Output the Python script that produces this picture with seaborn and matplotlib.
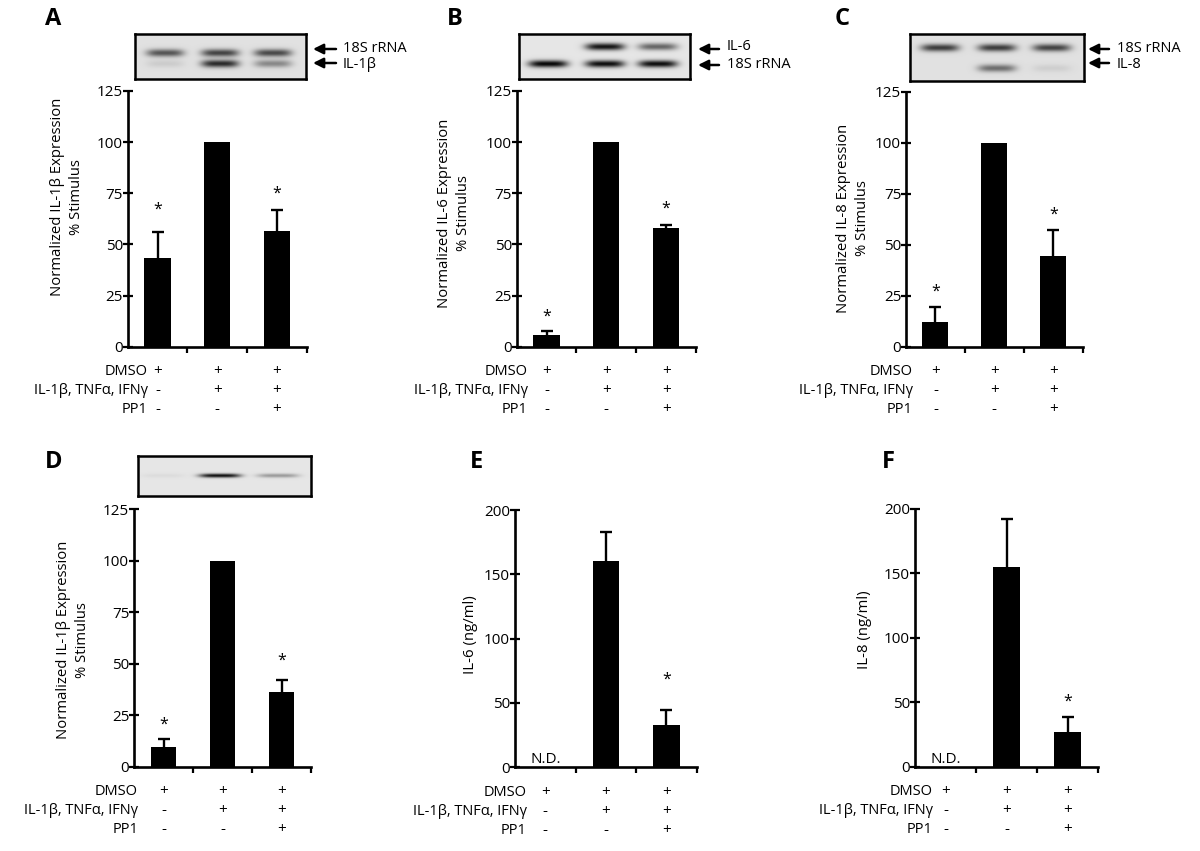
import numpy as np
import pandas as pd
import matplotlib
matplotlib.use('Agg')
import matplotlib.pyplot as plt
import matplotlib.transforms as mtransforms
import seaborn as sns

sns.set_style('ticks')
plt.rcParams['font.family'] = ['Open Sans', 'DejaVu Sans']
plt.rcParams['text.color'] = 'black'
plt.rcParams['axes.labelcolor'] = 'black'
plt.rcParams['xtick.color'] = 'black'
plt.rcParams['ytick.color'] = 'black'

W, H = 1200, 851

# treatment groups (one bar each)
conditions = ['DMSO', 'DMSO + cytokines', 'DMSO + cytokines + PP1']
row_labels = ['DMSO', 'IL-1\u03b2, TNF\u03b1, IFN\u03b3', 'PP1']
row_signs = [['+', '+', '+'], ['-', '+', '+'], ['-', '-', '+']]

# A: IL-1b mRNA, % stimulus
il1b_mrna = [43.5, 100.0, 56.5]
il1b_mrna_sem = [12.7, 0.0, 10.3]
# B: IL-6 mRNA, % stimulus
il6_mrna = [5.7, 100.0, 58.0]
il6_mrna_sem = [2.1, 0.0, 1.6]
# C: IL-8 mRNA, % stimulus
il8_mrna = [11.9, 100.0, 44.6]
il8_mrna_sem = [7.7, 0.0, 12.6]
# D: IL-1b protein, % stimulus
il1b_prot = [9.7, 100.0, 36.1]
il1b_prot_sem = [3.7, 0.0, 5.9]
# E/F: secreted protein, ng/ml (first group not detected)
il6_ng = [0.0, 160.6, 32.9]
il6_ng_sem = [0.0, 22.1, 11.6]
il8_ng = [0.0, 155.2, 26.7]
il8_ng_sem = [0.0, 37.3, 12.1]

stars_pct = [True, False, True]
stars_ng = [False, False, True]
not_detected = [True, False, False]

# gel band intensities per lane (0 = no band)
gelA_18s = [0.55, 0.62, 0.6]
gelA_il1b = [0.08, 0.72, 0.35]
gelB_il6 = [0.0, 0.82, 0.5]
gelB_18s = [0.88, 0.85, 0.85]
gelC_18s = [0.65, 0.65, 0.62]
gelC_il8 = [0.0, 0.45, 0.07]
gelD_il1b = [0.04, 0.85, 0.3]

fig = plt.figure(figsize=(12, 8.51), dpi=100)


def px_axes(left, top, right, bottom):
    return fig.add_axes([left / W, 1 - bottom / H, (right - left) / W, (bottom - top) / H])


def ftext(px, py, s, **kw):
    return fig.text(px / W, 1 - py / H, s, **kw)


def arrow(x_head, x_tail, y):
    fig.add_artist(matplotlib.patches.FancyArrowPatch(
        (x_tail / W, 1 - y / H), (x_head / W, 1 - y / H), transform=fig.transFigure,
        arrowstyle='-|>', mutation_scale=15, lw=1.8, color='black',
        shrinkA=0, shrinkB=0))


def draw_gel(box, lanes, bands, half_w, half_h, bg):
    ax = px_axes(*box)
    nx = int((box[2] - box[0]) * 2)
    ny = int((box[3] - box[1]) * 2)
    X, Y = np.meshgrid(np.linspace(0, 1, nx), np.linspace(0, 1, ny))
    img = np.full((ny, nx), bg)
    for ypos, intens in bands:
        for lx, val in zip(lanes, intens):
            img -= val * np.exp(-((X - lx) / half_w) ** 4) * np.exp(-((Y - ypos) / half_h) ** 2)
    ax.imshow(np.clip(img, 0, 1), cmap='gray', vmin=0, vmax=1, aspect='auto',
              extent=(0, 1, 1, 0), interpolation='bilinear')
    ax.set_xticks([])
    ax.set_yticks([])
    for s in ax.spines.values():
        s.set_visible(True)
        s.set_linewidth(1.8)
        s.set_color('black')
    return ax


def draw_bars(box, means, sems, stars, ymax, step, star_pad, nd=None, label_off=10):
    ax = px_axes(*box)
    df = pd.DataFrame({'condition': conditions, 'value': means})
    sns.barplot(data=df, x='condition', y='value', color='black', saturation=1,
                width=0.44, errorbar=None, edgecolor='black', linewidth=0, ax=ax)
    # upper-only error bars with a cap at the top
    idx = [i for i, s in enumerate(sems) if s > 0]
    tops = [means[i] + sems[i] for i in idx]
    ax.vlines(idx, [means[i] for i in idx], tops, color='black', lw=1.7)
    ax.plot(idx, tops, ls='none', marker='_', ms=8, mew=1.7, color='black')
    for i, st in enumerate(stars):
        if st:
            ax.annotate('*', xy=(i, means[i] + sems[i]), xytext=(0, star_pad[i]),
                        textcoords='offset pixels', ha='center', va='bottom', fontsize=11.5)
    if nd is not None:
        for i, flag in enumerate(nd):
            if flag:
                ax.annotate('N.D.', xy=(i, 0), xytext=(0, 0), textcoords='offset pixels',
                            ha='center', va='bottom', fontsize=11)
    ax.set_xlim(-0.5, 2.5)
    ax.set_ylim(0, ymax)
    ax.set_yticks(np.arange(0, ymax + 1, step))
    ax.set_xticks([0.5, 1.5, 2.5])
    ax.set_xticklabels([])
    ax.set_xlabel('')
    ax.set_ylabel('')
    sns.despine(ax=ax)
    ax.patch.set_alpha(0)
    for s in ['left', 'bottom']:
        ax.spines[s].set_linewidth(1.9)
        ax.spines[s].set_color('black')
    ax.tick_params(axis='y', direction='inout', length=7, width=1.6, labelsize=11,
                   pad=0, colors='black')
    ax.tick_params(axis='x', direction='out', length=4, width=1.6, colors='black')

    # treatment table under the axis
    tr = mtransforms.blended_transform_factory(ax.transData, fig.transFigure)
    for r, (lab, signs) in enumerate(zip(row_labels, row_signs)):
        y = box[3] + 25 + r * 19
        ftext(box[0] + label_off, y, lab, ha='right', va='center', fontsize=10.5)
        for i, sg in enumerate(signs):
            ax.text(i, 1 - y / H, sg, transform=tr, ha='center', va='center', fontsize=11)
    return ax


# ---- panel letters ----
for lab, x, y in [('A', 45, 25), ('B', 447, 25), ('C', 835, 25),
                  ('D', 45, 468), ('E', 470, 468), ('F', 882, 468)]:
    ftext(x, y, lab, ha='left', va='baseline', fontsize=17, fontweight='bold')

# ---- gels ----
draw_gel((135, 34, 306, 79), [0.176, 0.498, 0.808],
         [(0.42, gelA_18s), (0.66, gelA_il1b)], 0.11, 0.085, 0.88)
arrow(313, 336, 49)
arrow(313, 336, 63)
ftext(343, 49, '18S rRNA', ha='left', va='center', fontsize=10.5)
ftext(343, 64, 'IL-1\u03b2', ha='left', va='center', fontsize=10.5)

draw_gel((519, 34, 690, 79), [0.17, 0.503, 0.813],
         [(0.28, gelB_il6), (0.665, gelB_18s)], 0.115, 0.08, 0.9)
arrow(698, 719, 49)
arrow(698, 719, 65)
ftext(727, 47, 'IL-6', ha='left', va='center', fontsize=10.5)
ftext(727, 64, '18S rRNA', ha='left', va='center', fontsize=10.5)

draw_gel((910, 34, 1084, 81), [0.172, 0.5, 0.816],
         [(0.29, gelC_18s), (0.73, gelC_il8)], 0.11, 0.08, 0.88)
arrow(1088, 1109, 49)
arrow(1088, 1109, 63)
ftext(1117, 48, '18S rRNA', ha='left', va='center', fontsize=10.5)
ftext(1117, 64, 'IL-8', ha='left', va='center', fontsize=10.5)

draw_gel((138, 456, 311, 496), [0.145, 0.474, 0.81],
         [(0.49, gelD_il1b)], 0.12, 0.05, 0.9)

# ---- bar charts ----
draw_bars((127.7, 91, 306.7, 346.7), il1b_mrna, il1b_mrna_sem, stars_pct, 125, 25,
          [14, 0, 8], label_off=20)
draw_bars((516.7, 91, 696, 346.7), il6_mrna, il6_mrna_sem, stars_pct, 125, 25,
          [6, 0, 8], label_off=11)
draw_bars((906, 91.7, 1082.7, 346.7), il8_mrna, il8_mrna_sem, stars_pct, 125, 25,
          [7, 0, 7], label_off=7)
draw_bars((134, 509.3, 311, 766.7), il1b_prot, il1b_prot_sem, stars_pct, 125, 25,
          [6, 0, 12], label_off=4)
draw_bars((515, 510, 696.7, 767.3), il6_ng, il6_ng_sem, stars_ng, 200, 50,
          [0, 0, 22], nd=not_detected, label_off=12)
draw_bars((915, 509, 1098, 766.7), il8_ng, il8_ng_sem, stars_ng, 200, 50,
          [0, 0, 7], nd=not_detected, label_off=18)

# ---- y labels ----
ylab_kw = dict(ha='center', va='center', rotation=90, fontsize=10.7, linespacing=1.35)
ftext(67, 197, 'Normalized IL-1\u03b2 Expression\n% Stimulus', **ylab_kw)
ftext(454, 213, 'Normalized IL-6 Expression\n% Stimulus', **ylab_kw)
ftext(853, 218, 'Normalized IL-8 Expression\n% Stimulus', **ylab_kw)
ftext(73, 640, 'Normalized IL-1\u03b2 Expression\n% Stimulus', **ylab_kw)
ftext(470, 635, 'IL-6 (ng/ml)', **ylab_kw)
ftext(865, 630, 'IL-8 (ng/ml)', **ylab_kw)

fig.savefig('out.png', dpi=100, facecolor='white')
